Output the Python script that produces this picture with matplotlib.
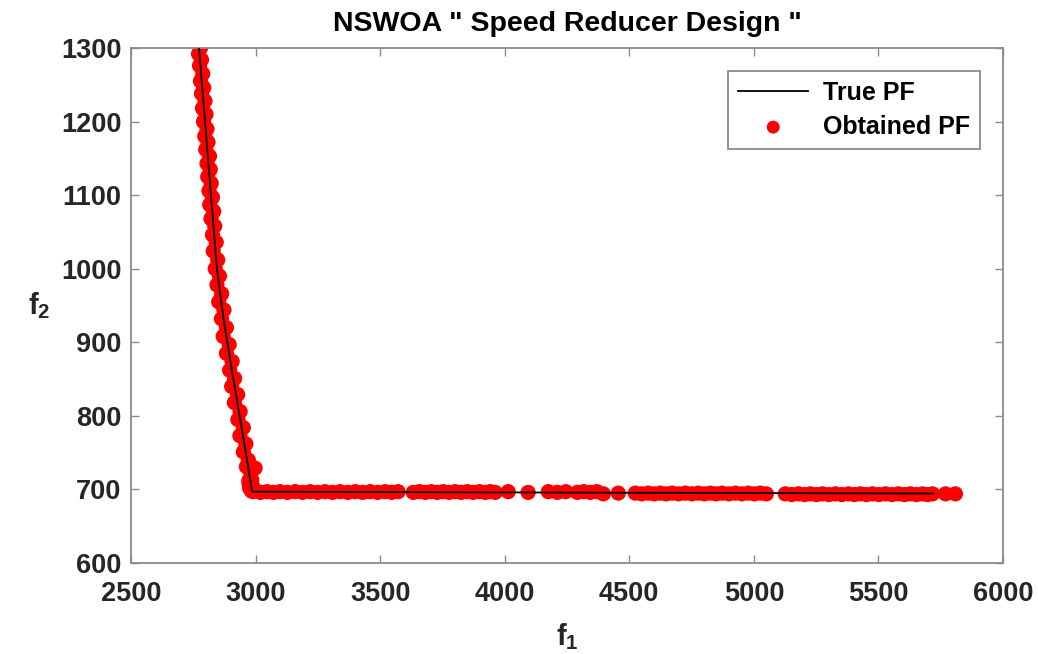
import numpy as np
import matplotlib.pyplot as plt

plt.rcParams['font.family'] = ['Liberation Sans', 'DejaVu Sans']
plt.rcParams['mathtext.fontset'] = 'custom'
plt.rcParams['mathtext.rm'] = 'Liberation Sans:bold'
plt.rcParams['mathtext.bf'] = 'Liberation Sans:bold'

#true pareto front
true_f1 = [2773, 2791, 2809, 2827, 2845, 2870, 2898, 2920, 2942, 2964, 2986, 3500, 4500, 5721]
true_f2 = [1300, 1225, 1150, 1075, 1000, 935, 876, 832, 788, 744, 697, 696.5, 695.5, 694.5]

#obtained front - steep part
steep_f1 = [2768, 2779, 2771, 2783, 2775, 2788, 2779, 2792, 2783, 2797, 2787, 2801, 2791, 2805,
            2796, 2809, 2800, 2815, 2805, 2818, 2808, 2822, 2813, 2827, 2816, 2832, 2821, 2836,
            2827, 2842, 2830, 2848, 2838, 2855, 2845, 2864, 2852, 2873, 2863, 2883, 2870, 2894,
            2883, 2906, 2896, 2916, 2904, 2928, 2915, 2938, 2929, 2951, 2937, 2961, 2951, 2971,
            2963, 2981, 2973, 2990, 2976, 2985, 2993, 2974, 2983, 2998]
steep_f2 = [1310, 1300, 1292, 1284, 1276, 1265, 1255, 1246, 1238, 1228, 1218, 1210, 1200, 1190,
            1180, 1172, 1162, 1153, 1143, 1135, 1125, 1116, 1106, 1097, 1087, 1078, 1068, 1058,
            1046, 1036, 1024, 1012, 1000, 990, 978, 966, 955, 944, 932, 920, 908, 897,
            885, 874, 862, 851, 840, 829, 818, 806, 795, 784, 773, 762, 751, 740,
            731, 722, 712, 703, 702, 713, 700, 707, 698, 729]

#obtained front - flat part
flat_f1 = [2990, 3020, 3046, 3072, 3098, 3128, 3159, 3189, 3219, 3249, 3279, 3309, 3339,
           3370, 3400, 3430, 3460, 3490, 3520, 3546, 3572, 3633, 3657, 3681, 3705, 3729,
           3753, 3777, 3801, 3825, 3849, 3873, 3898, 3922, 3942, 3962, 4014, 4094, 4175,
           4211, 4245, 4291, 4317, 4343, 4370, 4396, 4456, 4524, 4550, 4576, 4600, 4624,
           4648, 4672, 4698, 4725, 4751, 4777, 4801, 4825, 4849, 4873, 4900, 4926, 4952,
           4978, 5002, 5026, 5050, 5126, 5152, 5179, 5203, 5227, 5251, 5275, 5301, 5327,
           5353, 5380, 5404, 5428, 5452, 5476, 5502, 5528, 5554, 5580, 5604, 5628, 5652,
           5677, 5697, 5717, 5769, 5809]
flat_f2 = [697, 696, 697, 696, 697, 696, 697, 696, 697, 696, 697, 696, 697,
           696, 697, 696, 697, 696, 697, 696, 697, 696, 697, 696, 697, 696,
           697, 696, 697, 696, 697, 696, 697, 696, 697, 696, 697, 696, 697,
           696, 697, 696, 697, 696, 697, 694, 695, 695, 694, 695, 694, 695,
           694, 695, 694, 695, 694, 695, 694, 695, 694, 695, 694, 695, 694,
           695, 694, 695, 694, 694, 693, 694, 693, 694, 693, 694, 693, 694,
           693, 694, 693, 694, 693, 694, 693, 694, 693, 694, 693, 694, 693,
           694, 693, 694, 694, 694]

f1 = np.array(steep_f1 + flat_f1)
f2 = np.array(steep_f2 + flat_f2)

fig = plt.figure(figsize=(10.38, 6.54), dpi=100)
ax = fig.add_axes([0.1262, 0.1391, 0.8401, 0.7875])

ax.plot(true_f1, true_f2, color='black', linewidth=1.3, label='True PF', zorder=3)
ax.scatter(f1, f2, s=120, color='red', edgecolors='none', label='Obtained PF', zorder=2)

ax.set_xlim(2500, 6000)
ax.set_ylim(600, 1300)
ax.set_xticks(np.arange(2500, 6001, 500))
ax.set_yticks(np.arange(600, 1301, 100))

ax.tick_params(direction='in', top=True, right=True, length=6, width=1.0,
               color='#8a8a8a', labelsize=19.5, labelcolor='#262626')
ax.tick_params(axis='x', pad=13)
ax.tick_params(axis='y', pad=7)
for lbl in ax.get_xticklabels() + ax.get_yticklabels():
    lbl.set_fontweight('bold')
for sp in ax.spines.values():
    sp.set_color('#8a8a8a')
    sp.set_linewidth(1.3)

ax.set_title('NSWOA " Speed Reducer Design "', fontsize=20.5, fontweight='bold', pad=12)
ax.set_xlabel(r'$\mathbf{f_1}$', fontsize=21, color='#262626')
ax.xaxis.set_label_coords(0.5, -0.112)
ax.set_ylabel(r'$\mathbf{f_2}$', fontsize=21, color='#262626', rotation=0)
ax.yaxis.set_label_coords(-0.105, 0.47)

leg = ax.legend(loc='upper right', bbox_to_anchor=(0.974, 0.956), borderaxespad=0,
                fancybox=False, edgecolor='#8a8a8a', handlelength=2.8, markerscale=0.85,
                prop={'size': 18, 'weight': 'bold'}, framealpha=1, borderpad=0.4,
                labelspacing=0.4, handletextpad=0.6)
leg.get_frame().set_linewidth(1.3)

fig.savefig('out.png', dpi=100)
